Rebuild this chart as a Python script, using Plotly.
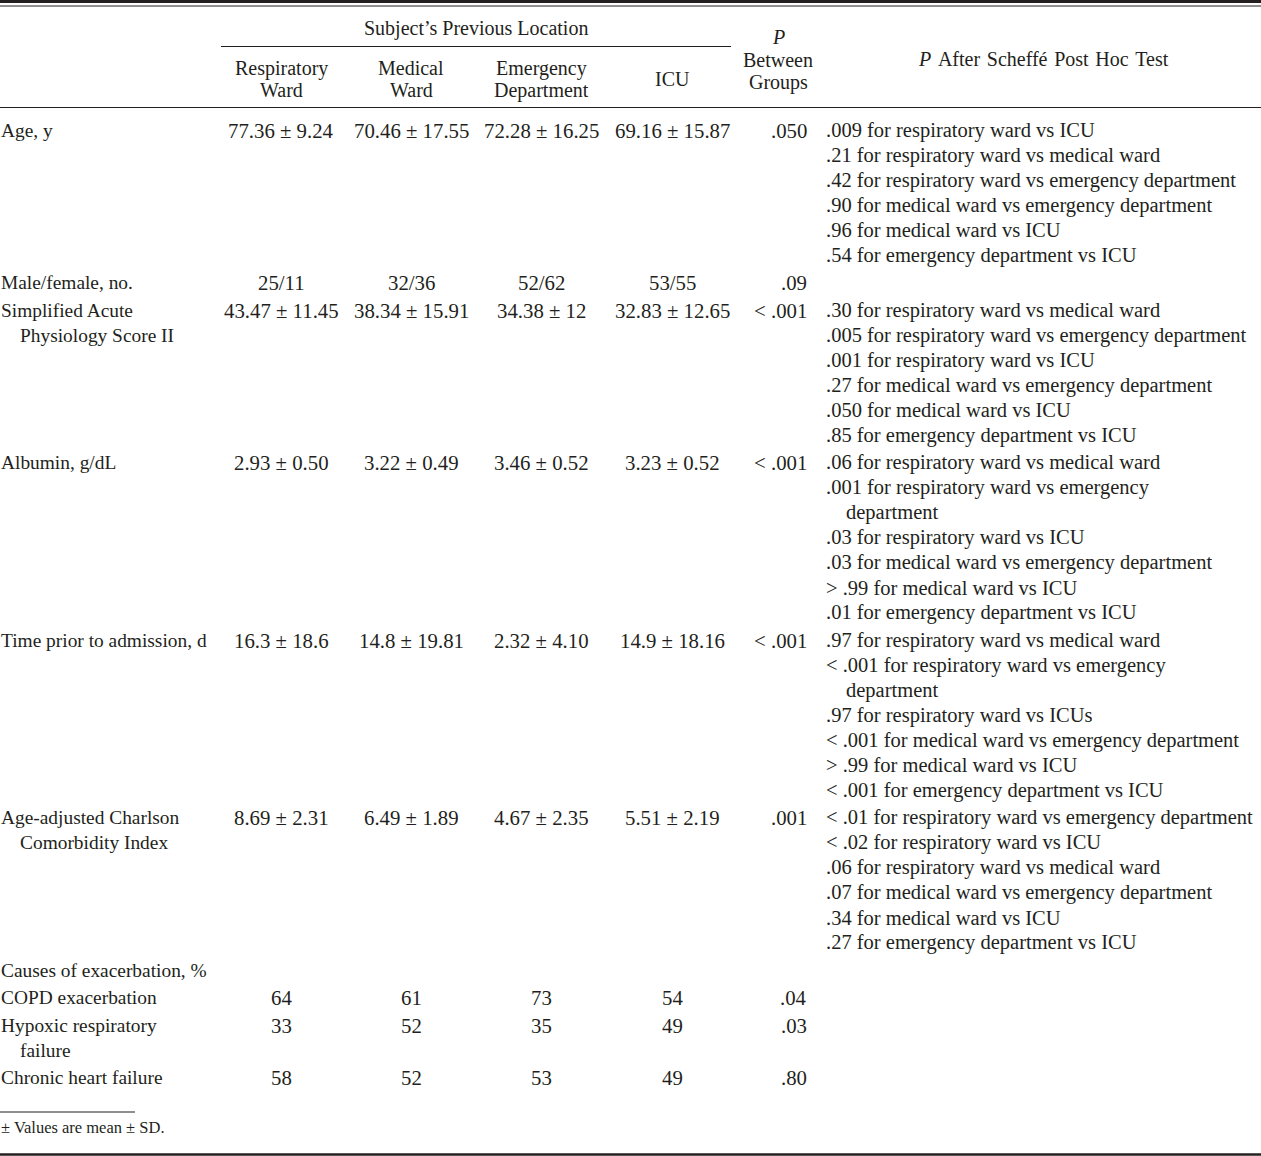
import plotly.graph_objects as go

W, H = 1261, 1156
FONT = "Liberation Serif"
INK = "#231f20"

# font sizes per part of the table
FS_HEAD = 20
FS_LABEL = 19.4
FS_CELL = 20.8
FS_POSTHOC = 20.5
FS_NOTE = 16.5

# header texts
group_title = "Subject’s Previous Location"
group_cols = [["Respiratory", "Ward"], ["Medical", "Ward"],
              ["Emergency", "Department"], ["ICU"]]
p_header = ["<i>P</i>", "Between", "Groups"]
posthoc_header = "<i>P</i> After Scheffé Post Hoc Test"
footnote = "± Values are mean ± SD."

# table body
row_labels = [
    ["Age, y"],
    ["Male/female, no."],
    ["Simplified Acute", "Physiology Score II"],
    ["Albumin, g/dL"],
    ["Time prior to admission, d"],
    ["Age-adjusted Charlson", "Comorbidity Index"],
    ["Causes of exacerbation, %"],
    ["COPD exacerbation"],
    ["Hypoxic respiratory", "failure"],
    ["Chronic heart failure"],
]
respiratory_ward = ["77.36 ± 9.24", "25/11", "43.47 ± 11.45", "2.93 ± 0.50",
                    "16.3 ± 18.6", "8.69 ± 2.31", "", "64", "33", "58"]
medical_ward = ["70.46 ± 17.55", "32/36", "38.34 ± 15.91", "3.22 ± 0.49",
                "14.8 ± 19.81", "6.49 ± 1.89", "", "61", "52", "52"]
emergency_dept = ["72.28 ± 16.25", "52/62", "34.38 ± 12", "3.46 ± 0.52",
                  "2.32 ± 4.10", "4.67 ± 2.35", "", "73", "35", "53"]
icu = ["69.16 ± 15.87", "53/55", "32.83 ± 12.65", "3.23 ± 0.52",
       "14.9 ± 18.16", "5.51 ± 2.19", "", "54", "49", "49"]
p_between = [".050", ".09", "< .001", "< .001", "< .001", ".001", "", ".04", ".03", ".80"]

# each comparison is a list of lines; lines after the first are wrapped (indented)
posthoc = [
    [[".009 for respiratory ward vs ICU"],
     [".21 for respiratory ward vs medical ward"],
     [".42 for respiratory ward vs emergency department"],
     [".90 for medical ward vs emergency department"],
     [".96 for medical ward vs ICU"],
     [".54 for emergency department vs ICU"]],
    [],
    [[".30 for respiratory ward vs medical ward"],
     [".005 for respiratory ward vs emergency department"],
     [".001 for respiratory ward vs ICU"],
     [".27 for medical ward vs emergency department"],
     [".050 for medical ward vs ICU"],
     [".85 for emergency department vs ICU"]],
    [[".06 for respiratory ward vs medical ward"],
     [".001 for respiratory ward vs emergency", "department"],
     [".03 for respiratory ward vs ICU"],
     [".03 for medical ward vs emergency department"],
     ["> .99 for medical ward vs ICU"],
     [".01 for emergency department vs ICU"]],
    [[".97 for respiratory ward vs medical ward"],
     ["< .001 for respiratory ward vs emergency", "department"],
     [".97 for respiratory ward vs ICUs"],
     ["< .001 for medical ward vs emergency department"],
     ["> .99 for medical ward vs ICU"],
     ["< .001 for emergency department vs ICU"]],
    [["< .01 for respiratory ward vs emergency department"],
     ["< .02 for respiratory ward vs ICU"],
     [".06 for respiratory ward vs medical ward"],
     [".07 for medical ward vs emergency department"],
     [".34 for medical ward vs ICU"],
     [".27 for emergency department vs ICU"]],
    [], [], [], [],
]

# column geometry
COL_X = [281, 411, 541, 672]
P_RIGHT = 808
PH_LEFT = 825
INDENT = 20
LINE = 25
ROW_GAP = 27.5
FIRST_Y = 130

HAIR = "\u200a"


def esc(s, pad=""):
    if s.startswith("< "):
        s = "&lt; " + s[2:]
    elif s.startswith("> "):
        s = "&gt; " + s[2:]
    if pad:
        s = s.replace(" ", " " + pad)
    return s


annotations = []


def txt(x, y, s, size, anchor="center", pad=""):
    annotations.append(dict(
        x=x, y=y, xref="x", yref="y", text=esc(s, pad), showarrow=False,
        xanchor=anchor, yanchor="middle", borderpad=0,
        font=dict(family=FONT, size=size, color=INK)))


# header
txt(476, 28, group_title, FS_HEAD)
for cx, lines in zip(COL_X, group_cols):
    if len(lines) == 1:
        txt(cx, 79, lines[0], FS_HEAD)
    else:
        for k, s in enumerate(lines):
            txt(cx, 68 + 22 * k, s, FS_HEAD)
txt(778, 37, p_header[0], FS_HEAD)
txt(778, 60, p_header[1], FS_HEAD)
txt(778, 82, p_header[2], FS_HEAD)
txt(1043, 59, posthoc_header, FS_HEAD, pad=HAIR)

# body
y = FIRST_Y
for i, label in enumerate(row_labels):
    for k, s in enumerate(label):
        txt(INDENT - 1 if k else 0, y + k * LINE, s, FS_LABEL, anchor="left")
    for cx, col in zip(COL_X, [respiratory_ward, medical_ward, emergency_dept, icu]):
        if col[i]:
            txt(cx, y, col[i], FS_CELL)
    if p_between[i]:
        txt(P_RIGHT, y, p_between[i], FS_CELL, anchor="right")
    n = 0
    for entry in posthoc[i]:
        for k, s in enumerate(entry):
            txt(PH_LEFT + (INDENT if k else 0), y + n * LINE, s, FS_POSTHOC, anchor="left")
            n += 1
    nlines = max(len(label), n)
    y = y + (nlines - 1) * LINE + ROW_GAP

txt(0, 1127, footnote, FS_NOTE, anchor="left")

shapes = [
    dict(type="line", x0=0, x1=W, y0=1.5, y1=1.5, line=dict(color=INK, width=3)),
    dict(type="line", x0=0, x1=W, y0=6, y1=6, line=dict(color=INK, width=1)),
    dict(type="line", x0=221, x1=731, y0=46.5, y1=46.5, line=dict(color=INK, width=1)),
    dict(type="line", x0=0, x1=W, y0=107.5, y1=107.5, line=dict(color=INK, width=1.2)),
    dict(type="line", x0=0, x1=135, y0=1112, y1=1112, line=dict(color=INK, width=1)),
    dict(type="line", x0=0, x1=W, y0=1154.5, y1=1154.5, line=dict(color=INK, width=2.5)),
]
for s in shapes:
    s.update(xref="x", yref="y", layer="above")

fig = go.Figure()
fig.update_layout(
    width=W, height=H,
    margin=dict(l=0, r=0, t=0, b=0),
    paper_bgcolor="white", plot_bgcolor="white",
    xaxis=dict(range=[0, W], visible=False, fixedrange=True),
    yaxis=dict(range=[H, 0], visible=False, fixedrange=True),
    annotations=annotations,
    shapes=shapes,
    showlegend=False,
)

fig.write_html("out.html", config={"displayModeBar": False},
               post_script="document.body.style.margin='0';")
